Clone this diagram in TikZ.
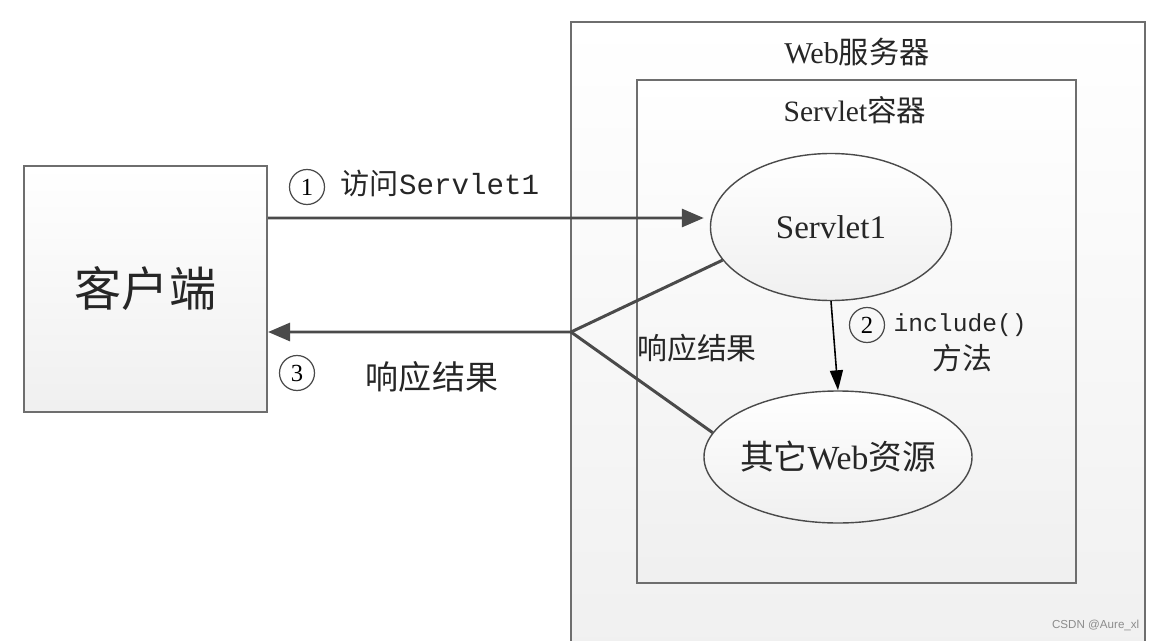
\documentclass[tikz,border=0pt]{standalone}
\usepackage{fontspec}
\setmainfont{Liberation Serif}
\setmonofont{Liberation Mono}
\setsansfont{Liberation Sans}
\newfontfamily\cjk{Noto Sans CJK SC}
\usepackage{tikz}
\usetikzlibrary{shapes.geometric,arrows.meta}
\definecolor{edgegray}{HTML}{6E6E6E}
\definecolor{linegray}{HTML}{4A4A4A}
\tikzset{
  box/.style={draw=edgegray,line width=0.6pt,top color=white,bottom color=black!6},
  res/.style={ellipse,draw=linegray,line width=0.4pt,top color=white,bottom color=black!6,inner sep=0pt},
  flow/.style={draw=linegray,line width=0.85pt,-{Triangle[length=0.22cm,width=0.18cm]}},
  back/.style={draw=linegray,line width=0.85pt},
  call/.style={draw=black,line width=0.45pt,-{Triangle[length=0.2cm,width=0.13cm]}},
  num/.style={circle,draw=linegray,line width=0.35pt,inner sep=0pt,minimum size=0.35cm,font=\fontsize{7}{8}\selectfont},
  txt/.style={inner sep=0pt,text=black!85},
}

\begin{document}
\begin{tikzpicture}
  \useasboundingbox (0,0) rectangle (11.54,6.40);
  \clip (0,0) rectangle (11.54,6.40);
  % server side
  \draw[box] (5.71,-0.3) rectangle (11.45,6.18);
  \draw[box] (6.37,0.57) rectangle (10.76,5.60);
  \node[txt,font=\fontsize{8.6}{10}\selectfont] (webt) at (8.57,5.88) {Web{\cjk 服务器}};
  \node[txt,font=\fontsize{8.4}{10}\selectfont] (cont) at (8.55,5.30) {Servlet{\cjk 容器}};
  \node[res,minimum width=2.41cm,minimum height=1.47cm] (srv) at (8.31,4.13) {};
  \node[txt,font=\fontsize{9.4}{11}\selectfont] (srvt) at (srv) {Servlet1};
  \node[res,minimum width=2.68cm,minimum height=1.32cm] (oth) at (8.38,1.83) {};
  \node[txt,font=\fontsize{9.6}{11}\selectfont] (otht) at (oth) {{\cjk 其它}Web{\cjk 资源}};
  % client
  \node[box,minimum width=2.43cm,minimum height=2.46cm] (client) at (1.455,3.51) {};
  \node[txt,font=\fontsize{13.4}{15}\selectfont\cjk] (clientt) at (client) {客户端};
  % request
  \draw[flow] ([yshift=0.71cm]client.east) -- ([xshift=-0.06cm,yshift=0.09cm]srv.west);
  \node[num] (n1) at (3.07,4.53) {1};
  \node[txt,anchor=west,font=\fontsize{8.3}{10}\selectfont\ttfamily] (reqt) at (3.40,4.57) {{\cjk 访问}Servlet1};
  % include
  \draw[call] (srv.south) -- (oth.north);
  \node[num] (n2) at (8.67,3.15) {2};
  \node[txt,anchor=west,font=\fontsize{7}{8}\selectfont\ttfamily] (inct) at (8.93,3.15) {include()};
  \node[txt,font=\fontsize{8.5}{10}\selectfont\cjk] (inct2) at (9.62,2.82) {方法};
  % response
  \coordinate (join) at (5.71,3.08);
  \draw[back] (srv.197) -- (join);
  \draw[back] (oth.169) -- (join);
  \draw[flow] (join) -- ([yshift=-0.43cm]client.east);
  \node[num] (n3) at (2.97,2.67) {3};
  \node[txt,font=\fontsize{9.4}{11}\selectfont\cjk] (respt) at (4.32,2.63) {响应结果};
  \node[txt,font=\fontsize{8.5}{10}\selectfont\cjk] (respt2) at (6.97,2.92) {响应结果};
  \node[txt,anchor=east,text=black!45,font=\fontsize{3.3}{4}\selectfont\sffamily] (mark) at (11.40,0.15) {CSDN @Aure\_xl};
\end{tikzpicture}
\end{document}
